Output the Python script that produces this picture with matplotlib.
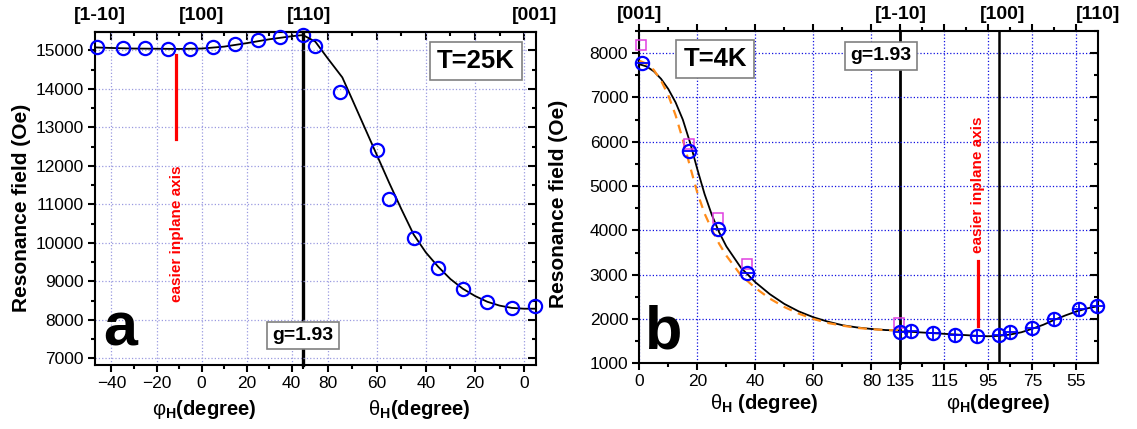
import numpy as np
import matplotlib
matplotlib.use('Agg')
import matplotlib.pyplot as plt
from matplotlib.ticker import MultipleLocator, FixedLocator

plt.rcParams['font.family'] = ['Liberation Sans', 'DejaVu Sans']
plt.rcParams['mathtext.fontset'] = 'custom'
plt.rcParams['mathtext.rm'] = 'Liberation Sans'
plt.rcParams['mathtext.bf'] = 'Liberation Sans:bold'
plt.rcParams['mathtext.it'] = 'Liberation Sans:italic'

# ---- panel a (T=25K) ----
phi_a = [-46.5, -35, -25, -15, -5, 5, 15, 25, 35, 45]
field_phi_a = [15090, 15070, 15060, 15050, 15050, 15090, 15180, 15270, 15360, 15390]
theta_a = [85, 75, 60, 55, 45, 35, 25, 15, 5, -4.5]
field_theta_a = [15110, 13910, 12410, 11130, 10140, 9340, 8800, 8460, 8320, 8370]

fit_phi_a = [-47.3, -40, -30, -20, -10, 0, 10, 20, 30, 40, 45]
fit_field_phi_a = [15080, 15065, 15050, 15045, 15040, 15050, 15100, 15190, 15290, 15370, 15400]
fit_theta_a = [90, 85, 80, 74, 70, 65, 60, 55, 50, 45, 40, 35, 30, 25, 20, 15, 10, 5, 0, -4.6]
fit_field_theta_a = [15400, 15230, 14800, 14300, 13730, 13010, 12290, 11570, 10880, 10220,
                     9750, 9380, 9060, 8810, 8620, 8470, 8370, 8310, 8290, 8290]

# ---- panel b (T=4K) ----
theta_b = [1, 17, 27, 37]
field_theta_b = [7770, 5790, 4040, 3030]
theta_b_sq = [0.5, 17, 27, 37, 89.5]
field_theta_b_sq = [8185, 5955, 4280, 3250, 1900]
phi_b = [135, 130, 120, 110, 100, 90, 85, 75, 65, 54, 45.5]
field_phi_b = [1710, 1730, 1680, 1650, 1620, 1650, 1700, 1800, 1990, 2220, 2300]

fit_theta_b = [0, 2.5, 5, 7.5, 10, 12.5, 15, 17.5, 20, 22.5, 25, 27.5, 30, 35, 40, 45,
               50, 55, 60, 65, 70, 75, 80, 85, 90]
fit_field_theta_b = [7750, 7700, 7590, 7420, 7190, 6890, 6500, 5980, 5380, 4820, 4350, 3960,
                     3640, 3160, 2830, 2560, 2340, 2170, 2040, 1940, 1860, 1810, 1775, 1750, 1740]
fit2_field_theta_b = [7830, 7760, 7620, 7380, 7050, 6600, 6050, 5440, 4850, 4380, 4020, 3700,
                      3430, 2990, 2700, 2460, 2270, 2120, 2000, 1910, 1850, 1800, 1770, 1750, 1740]
fit_phi_b = [135, 130, 120, 110, 100, 95, 90, 85, 80, 75, 70, 65, 60, 55, 50, 45]
fit_field_phi_b = [1720, 1710, 1680, 1650, 1620, 1610, 1620, 1650, 1700, 1780,
                   1870, 1980, 2080, 2170, 2240, 2290]

W, H = 1137, 429
fig = plt.figure(figsize=(W / 100, H / 100), dpi=100)


def add_axes_px(x0, x1, y0, y1):
    return fig.add_axes([x0 / W, 1 - y1 / H, (x1 - x0) / W, (y1 - y0) / H])


def px(x, y):
    return x / W, 1 - y / H


ax_a1 = add_axes_px(95, 303, 32, 364.5)
ax_a2 = add_axes_px(303, 535.5, 32, 364.5)
ax_b1 = add_axes_px(639.3, 900.4, 31, 363.3)
ax_b2 = add_axes_px(900.4, 1098.3, 31, 363.3)

grid_a = '#9a9ae0'
grid_b = '#1010e0'
tick_kw = dict(width=1.5, labelsize=12.5, pad=3)

for ax in (ax_a1, ax_a2, ax_b1, ax_b2):
    for s in ax.spines.values():
        s.set_linewidth(1.5)
    ax.set_axisbelow(True)
ax_a2.patch.set_visible(False)
ax_b2.patch.set_visible(False)

# panel a axes
ax_a1.set_xlim(-47.3, 45)
ax_a2.set_xlim(90, -4.6)
for ax in (ax_a1, ax_a2):
    ax.set_ylim(6840, 15480)
    ax.yaxis.set_major_locator(MultipleLocator(1000))
    ax.yaxis.set_minor_locator(MultipleLocator(500))
    ax.xaxis.set_major_locator(MultipleLocator(20))
    ax.xaxis.set_minor_locator(MultipleLocator(10))
    ax.grid(True, color=grid_a, ls=':', lw=0.9)
    ax.tick_params(axis='x', which='both', direction='out', top=False, **tick_kw)
    ax.tick_params(axis='x', which='major', length=5)
    ax.tick_params(axis='x', which='minor', length=3)
    sec = ax.secondary_xaxis('top')
    sec.xaxis.set_major_locator(MultipleLocator(20))
    sec.xaxis.set_minor_locator(MultipleLocator(10))
    sec.tick_params(which='both', direction='in', width=1.5, labeltop=False)
    sec.tick_params(which='major', length=6)
    sec.tick_params(which='minor', length=3)
    sec.spines['top'].set_linewidth(1.5)

ax_a1.set_xticks([-40, -20, 0, 20, 40])
ax_a2.set_xticks([80, 60, 40, 20, 0])
ax_a1.spines['right'].set_linewidth(2.4)
ax_a2.spines['left'].set_visible(False)
ax_a1.tick_params(axis='y', which='both', direction='out', right=False, **tick_kw)
ax_a1.tick_params(axis='y', which='major', length=5)
ax_a1.tick_params(axis='y', which='minor', length=3)
ax_a2.tick_params(axis='y', which='both', direction='in', left=False, right=True,
                  labelleft=False, width=1.5)
ax_a2.tick_params(axis='y', which='major', length=6)
ax_a2.tick_params(axis='y', which='minor', length=3)

ax_a1.plot(fit_phi_a, fit_field_phi_a, color='k', lw=1.3, zorder=3)
ax_a2.plot(fit_theta_a, fit_field_theta_a, color='k', lw=1.3, zorder=3)
circ = dict(ls='none', marker='o', ms=9.5, mfc='none', mec='#0000ff', mew=1.6,
            clip_on=False, zorder=4)
ax_a1.plot(phi_a, field_phi_a, **circ)
ax_a2.plot(theta_a, field_theta_a, **circ)

ax_a1.plot([-11.3, -11.3], [14880, 12690], color='#ff0000', lw=2.3, zorder=3)
ax_a1.text(-11.0, 10250, 'easier inplane axis', color='#ff0000', fontsize=11,
           fontweight='bold', rotation=90, ha='center', va='center')

ax_a1.set_ylabel('Resonance field (Oe)', fontsize=15, fontweight='bold')
ax_a1.yaxis.set_label_coords(-0.31, 0.472)
ax_a1.set_xlabel(r'$\mathrm{φ}_\mathbf{H}$(degree)', fontsize=14.5, fontweight='bold')
ax_a1.xaxis.set_label_coords(0.526, -0.10)
ax_a2.set_xlabel(r'$\mathrm{θ}_\mathbf{H}$(degree)', fontsize=14.5, fontweight='bold')
ax_a2.xaxis.set_label_coords(0.498, -0.10)

top_kw = dict(ha='center', va='center', fontsize=14, fontweight='bold')
ax_a1.text(-45, 1.051, '[1-10]', transform=ax_a1.get_xaxis_transform(), **top_kw)
ax_a1.text(0, 1.051, '[100]', transform=ax_a1.get_xaxis_transform(), **top_kw)
ax_a2.text(87.5, 1.051, '[110]', transform=ax_a2.get_xaxis_transform(), **top_kw)
ax_a2.text(-4.3, 1.051, '[001]', transform=ax_a2.get_xaxis_transform(), **top_kw)

# panel b axes
ax_b1.set_xlim(0, 90)
ax_b2.set_xlim(135, 45)
for ax in (ax_b1, ax_b2):
    ax.set_ylim(1000, 8500)
    ax.yaxis.set_major_locator(MultipleLocator(1000))
    ax.yaxis.set_minor_locator(MultipleLocator(500))
    ax.grid(True, color=grid_b, ls=':', lw=0.9)
    ax.tick_params(axis='x', which='both', direction='out', top=True, **tick_kw)
    ax.tick_params(axis='x', which='major', length=5)
    ax.tick_params(axis='x', which='minor', length=3)

ax_b1.set_xticks([0, 20, 40, 60, 80])
ax_b1.xaxis.set_minor_locator(MultipleLocator(10))
ax_b2.set_xticks([135, 115, 95, 75, 55])
ax_b2.xaxis.set_minor_locator(FixedLocator([125, 105, 85, 65]))
ax_b2.get_xgridlines()[0].set_visible(False)
ax_b1.spines['right'].set_linewidth(2.0)
ax_b2.spines['left'].set_visible(False)
ax_b1.tick_params(axis='y', which='both', direction='out', right=False, **tick_kw)
ax_b1.tick_params(axis='y', which='major', length=5)
ax_b1.tick_params(axis='y', which='minor', length=3)
ax_b2.tick_params(axis='y', which='both', direction='in', left=False, right=True,
                  labelleft=False, width=1.5)
ax_b2.tick_params(axis='y', which='major', length=6)
ax_b2.tick_params(axis='y', which='minor', length=3)

ax_b2.axvline(90, color='k', lw=1.8, zorder=2)

ax_b1.plot(fit_theta_b, fit_field_theta_b, color='k', lw=1.3, zorder=3)
ax_b1.plot(fit_theta_b, fit2_field_theta_b, color='#ff8c1a', lw=1.6, ls=(0, (4, 3)), zorder=3)
ax_b2.plot(fit_phi_b, fit_field_phi_b, color='k', lw=1.3, zorder=3)

ax_b1.plot(theta_b_sq, field_theta_b_sq, ls='none', marker='s', ms=6.5, mfc='none',
           mec='#e040e0', mew=1.1, clip_on=False, zorder=4)
ax_b1.plot(theta_b, field_theta_b, **circ)
ax_b1.plot(theta_b, field_theta_b, ls='none', marker='_', ms=9.5, mec='#0000ff',
           mew=1.3, clip_on=False, zorder=4)
ax_b2.plot(phi_b, field_phi_b, **circ)
ax_b2.plot(phi_b, field_phi_b, ls='none', marker='+', ms=9.5, mec='#0000ff',
           mew=1.3, clip_on=False, zorder=4)

ax_b2.plot([99.6, 99.6], [3300, 1850], color='#ff0000', lw=2.3, zorder=3)
ax_b2.text(99.6, 5040, 'easier inplane axis', color='#ff0000', fontsize=11,
           fontweight='bold', rotation=90, ha='center', va='center')

ax_b1.set_ylabel('Resonance field (Oe)', fontsize=15, fontweight='bold')
ax_b1.yaxis.set_label_coords(-0.273, 0.479)
ax_b1.set_xlabel(r'$\mathrm{θ}_\mathbf{H}$ (degree)', fontsize=14.5, fontweight='bold')
ax_b1.xaxis.set_label_coords(0.479, -0.086)
ax_b2.set_xlabel(r'$\mathrm{φ}_\mathbf{H}$(degree)', fontsize=14.5, fontweight='bold')
ax_b2.xaxis.set_label_coords(0.493, -0.086)

ax_b1.text(0, 1.051, '[001]', transform=ax_b1.get_xaxis_transform(), **top_kw)
ax_b2.text(135, 1.051, '[1-10]', transform=ax_b2.get_xaxis_transform(), **top_kw)
ax_b2.text(88.7, 1.051, '[100]', transform=ax_b2.get_xaxis_transform(), **top_kw)
ax_b2.text(45, 1.051, '[110]', transform=ax_b2.get_xaxis_transform(), **top_kw)

# boxes and panel letters
box = dict(boxstyle='square,pad=0.28', fc='white', ec='#808080', lw=1.2)
fig.text(*px(476, 61), 'T=25K', fontsize=18.5, fontweight='bold', ha='center',
         va='center', bbox=box, zorder=5)
fig.text(*px(303, 335.5), 'g=1.93', fontsize=14, fontweight='bold', ha='center',
         va='center', bbox=box, zorder=5)
fig.text(*px(715, 59), 'T=4K', fontsize=18.5, fontweight='bold', ha='center',
         va='center', bbox=box, zorder=5)
fig.text(*px(881, 56), 'g=1.93', fontsize=14, fontweight='bold', ha='center',
         va='center', bbox=box, zorder=5)
fig.text(*px(103, 345.5), 'a', fontsize=44, fontweight='bold', ha='left',
         va='baseline', zorder=5)
fig.text(*px(645, 348.5), 'b', fontsize=44, fontweight='bold', ha='left',
         va='baseline', zorder=5)

fig.savefig('out.png', dpi=100)
